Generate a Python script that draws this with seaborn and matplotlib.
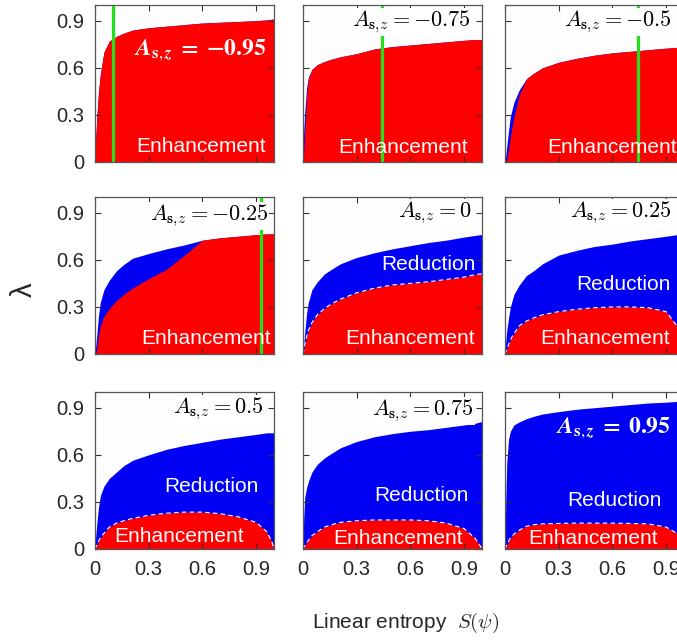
import matplotlib
matplotlib.use("Agg")
import matplotlib.pyplot as plt
import seaborn as sns

sns.set_theme(style="ticks")
plt.rcParams['font.family'] = ['Liberation Sans', 'DejaVu Sans']
plt.rcParams['mathtext.fontset'] = 'cm'

# linear entropy grid shared by all panels
entropy = [0.0, 0.004, 0.01, 0.02, 0.03, 0.05, 0.08, 0.12, 0.16, 0.21,
           0.3, 0.4, 0.5, 0.6, 0.7, 0.8, 0.9, 0.96, 0.99, 1.0]

asym_labels = ["-0.95", "-0.75", "-0.5", "-0.25", "0", "0.25", "0.5", "0.75", "0.95"]

# upper edge of the coloured region (top of blue / red) per A_s,z
top_m095 = [0, 0.15, 0.28, 0.45, 0.56, 0.70, 0.77, 0.80, 0.82, 0.84,
            0.855, 0.865, 0.875, 0.885, 0.89, 0.895, 0.90, 0.905, 0.91, 0.91]
top_m075 = [0, 0.20, 0.32, 0.47, 0.54, 0.59, 0.62, 0.64, 0.655, 0.67,
            0.69, 0.72, 0.735, 0.745, 0.755, 0.765, 0.775, 0.78, 0.78, 0.78]
top_m050 = [0, 0.04, 0.10, 0.20, 0.29, 0.38, 0.46, 0.53, 0.565, 0.60,
            0.635, 0.66, 0.68, 0.695, 0.705, 0.715, 0.725, 0.73, 0.73, 0.73]
top_m025 = [0, 0.05, 0.12, 0.25, 0.33, 0.41, 0.47, 0.53, 0.57, 0.61,
            0.64, 0.67, 0.695, 0.725, 0.74, 0.75, 0.76, 0.765, 0.765, 0.765]
top_p000 = [0, 0.06, 0.14, 0.26, 0.33, 0.41, 0.46, 0.51, 0.54, 0.575,
            0.615, 0.645, 0.67, 0.69, 0.71, 0.725, 0.745, 0.755, 0.76, 0.76]
top_p025 = [0, 0.08, 0.15, 0.23, 0.30, 0.38, 0.44, 0.50, 0.53, 0.575,
            0.63, 0.66, 0.685, 0.70, 0.72, 0.735, 0.75, 0.76, 0.765, 0.765]
top_p050 = [0, 0.08, 0.16, 0.27, 0.34, 0.40, 0.45, 0.49, 0.53, 0.565,
            0.60, 0.635, 0.66, 0.68, 0.70, 0.715, 0.73, 0.74, 0.74, 0.74]
top_p075 = [0, 0.20, 0.33, 0.39, 0.43, 0.49, 0.54, 0.58, 0.61, 0.645,
            0.685, 0.715, 0.735, 0.75, 0.76, 0.775, 0.79, 0.80, 0.81, 0.81]
top_p095 = [0, 0.30, 0.55, 0.70, 0.75, 0.79, 0.81, 0.83, 0.845, 0.86,
            0.875, 0.89, 0.90, 0.91, 0.92, 0.93, 0.935, 0.94, 0.94, 0.94]

# upper edge of the enhancement (red) region
red_m095 = top_m095
red_m075 = [0, 0.05, 0.20, 0.42, 0.53, 0.59, 0.62, 0.64, 0.655, 0.67,
            0.69, 0.72, 0.735, 0.745, 0.755, 0.765, 0.775, 0.78, 0.78, 0.78]
red_m050 = [0, 0.0, 0.02, 0.08, 0.16, 0.29, 0.43, 0.53, 0.565, 0.60,
            0.635, 0.66, 0.68, 0.695, 0.705, 0.715, 0.725, 0.73, 0.73, 0.73]
red_m025 = [0, 0.0, 0.03, 0.12, 0.18, 0.24, 0.29, 0.34, 0.38, 0.42,
            0.48, 0.54, 0.63, 0.725, 0.74, 0.75, 0.76, 0.765, 0.765, 0.765]
red_p000 = [0, 0.02, 0.06, 0.11, 0.15, 0.20, 0.25, 0.29, 0.32, 0.35,
            0.39, 0.42, 0.44, 0.45, 0.46, 0.475, 0.49, 0.505, 0.51, 0.51]
red_p025 = [0, 0.01, 0.03, 0.06, 0.09, 0.13, 0.18, 0.21, 0.23, 0.25,
            0.27, 0.285, 0.295, 0.30, 0.30, 0.295, 0.27, 0.18, 0.08, 0.0]
red_p050 = [0, 0.01, 0.025, 0.05, 0.07, 0.10, 0.14, 0.165, 0.18, 0.195,
            0.215, 0.228, 0.235, 0.235, 0.225, 0.205, 0.17, 0.11, 0.04, 0.0]
red_p075 = [0, 0.01, 0.02, 0.04, 0.055, 0.085, 0.11, 0.14, 0.155, 0.17,
            0.18, 0.185, 0.185, 0.185, 0.18, 0.165, 0.13, 0.07, 0.02, 0.0]
red_p095 = [0, 0.01, 0.025, 0.05, 0.07, 0.095, 0.12, 0.145, 0.155, 0.16,
            0.163, 0.165, 0.165, 0.165, 0.163, 0.16, 0.14, 0.10, 0.04, 0.0]

tops = [top_m095, top_m075, top_m050, top_m025, top_p000, top_p025, top_p050, top_p075, top_p095]
reds = [red_m095, red_m075, red_m050, red_m025, red_p000, red_p025, red_p050, red_p075, red_p095]

# green vertical markers in the first four panels
green_cut = [0.10, 0.44, 0.745, 0.93]

RED = "#ff0000"
BLUE = "#0000f5"
GREEN = "#22e01a"

# panel layout in pixels (left, top, width, height)
col_left = [95, 303, 505]
row_top = [5, 197, 392]
W, H = 179, 157
FW, FH = 677, 642

# label anchor (x, y), Reduction pos, Enhancement pos
label_pos = [(0.96, 0.71), (0.94, 0.89), (0.93, 0.89), (0.97, 0.88), (0.94, 0.90),
             (0.93, 0.90), (0.94, 0.89), (0.955, 0.88), (0.93, 0.77)]
red_txt = [None, None, None, None, (0.70, 0.57), (0.66, 0.44), (0.65, 0.40), (0.66, 0.34), (0.61, 0.31)]
enh_txt = [(0.59, 0.10), (0.56, 0.09), (0.60, 0.09), (0.62, 0.10), (0.60, 0.10),
           (0.56, 0.10), (0.47, 0.08), (0.53, 0.07), (0.49, 0.07)]

fig = plt.figure(figsize=(FW / 100, FH / 100), dpi=100)

for i in range(9):
    r, c = divmod(i, 3)
    ax = fig.add_axes([col_left[c] / FW, 1 - (row_top[r] + H) / FH, W / FW, H / FH])
    ax.set_facecolor("#fdfdfd")
    ax.fill_between(entropy, 0, tops[i], color=BLUE, lw=0, zorder=1)
    ax.fill_between(entropy, 0, reds[i], color=RED, lw=0, zorder=2)
    if i >= 4:
        sns.lineplot(x=entropy, y=reds[i], ax=ax, color="white", lw=0.8,
                     linestyle=(0, (4, 3)), sort=False, estimator=None, zorder=3)
    if i < 4:
        ax.axvline(green_cut[i], color=GREEN, lw=2.3, zorder=4)

    lx, ly = label_pos[i]
    if i in (0, 8):
        # bold white label drawn straight on the coloured area
        ax.text(lx, ly, r"$\boldsymbol{A}_{\mathbf{s},\boldsymbol{z}}\;\mathbf{=}\;\mathbf{"
                + asym_labels[i].replace("-", "\u2212") + "}$",
                ha="right", va="center", color="white", fontsize=17, zorder=6,
                math_fontfamily="stix")
    else:
        ax.text(lx, ly, r"$A_{\mathbf{s},\!z} = " + asym_labels[i] + "$",
                ha="right", va="center", color="black", fontsize=16, zorder=6,
                bbox=dict(facecolor="white", edgecolor="none", pad=0.5))
    if red_txt[i] is not None:
        ax.text(*red_txt[i], "Reduction", ha="center", va="center", color="white", fontsize=15, zorder=6)
    ax.text(*enh_txt[i], "Enhancement", ha="center", va="center", color="white", fontsize=15, zorder=6)

    ax.set_xlim(0, 1.0)
    ax.set_ylim(0, 1.0)
    ax.set_xticks([0, 0.3, 0.6, 0.9])
    ax.set_yticks([0, 0.3, 0.6, 0.9])
    ax.tick_params(direction="in", top=True, right=True, length=4, width=0.8,
                   color="#333333", labelsize=14.5, pad=8)
    ax.set_axisbelow(False)
    for s in ax.spines.values():
        s.set_color("#555555")
        s.set_linewidth(0.9)
        s.set_zorder(7)
    if c == 0:
        ax.set_yticklabels(["0", "0.3", "0.6", "0.9"])
    else:
        ax.set_yticklabels([])
    if r == 2:
        ax.set_xticklabels(["0", "0.3", "0.6", "0.9"])
    else:
        ax.set_xticklabels([])
    ax.set_xlabel("")
    ax.set_ylabel("")

fig.text(24 / FW, 1 - 290 / FH, "λ", rotation=90, ha="center", va="center", fontsize=21)
fig.text(406 / FW, 1 - 623 / FH, r"Linear entropy  $S(\psi)$", ha="center", va="center", fontsize=15)

fig.savefig("out.png", dpi=100)
